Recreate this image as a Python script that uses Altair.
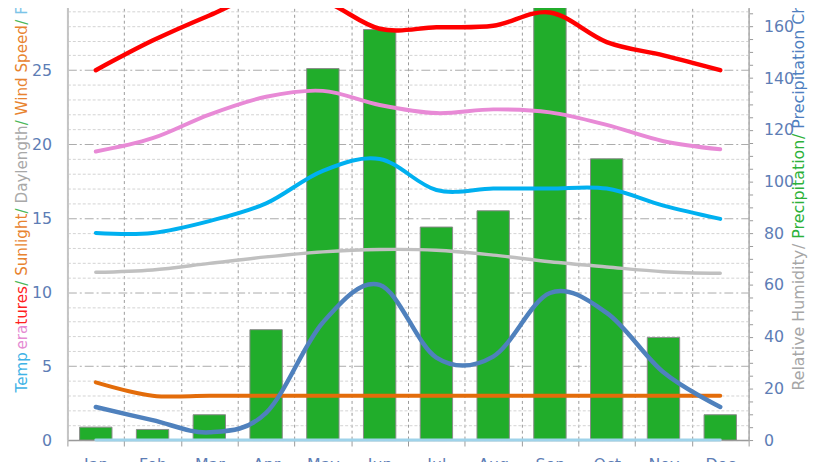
import altair as alt
import pandas as pd

months = ["Jan", "Feb", "Mar", "Apr", "May", "Jun", "Jul", "Aug", "Sep", "Oct", "Nov", "Dec"]
temp_max = [25.0, 27.0, 28.7, 30.2, 29.7, 27.8, 27.9, 28.0, 28.9, 26.9, 26.0, 25.0]
temp_mean = [19.5, 20.4, 22.0, 23.2, 23.6, 22.65, 22.1, 22.35, 22.15, 21.3, 20.2, 19.65]
temp_min = [14.0, 14.0, 14.8, 16.0, 18.2, 19.0, 16.9, 17.0, 17.0, 17.0, 15.85, 14.95]
daylength = [11.34, 11.5, 11.94, 12.38, 12.72, 12.88, 12.83, 12.5, 12.05, 11.7, 11.38, 11.27]
sunlight = [3.9, 3.0, 3.0, 3.0, 3.0, 3.0, 3.0, 3.0, 3.0, 3.0, 3.0, 3.0]
frost = [0, 0, 0, 0, 0, 0, 0, 0, 0, 0, 0, 0]
precipitation = [5.0, 4.1, 9.8, 42.7, 143.7, 158.8, 82.4, 88.7, 180.0, 108.8, 39.7, 9.8]
precip_chance = [12.8, 7.7, 3.0, 10.5, 45.5, 60.0, 31.9, 32.3, 56.9, 49.2, 26.2, 12.8]

left_ticks = list(range(0, 30))
right_ticks = list(range(0, 170, 5))

left_title = [("Temp", "#3fb3e6"), ("era", "#e58bd3"), ("tures", "#ff1f1f"), ("/ ", "#4cb85a"),
              ("Sunlight", "#e8832f"), ("/ ", "#4cb85a"), ("Daylength", "#a8a8a8"), ("/ ", "#4cb85a"),
              ("Wind Speed", "#e8832f"), ("/ ", "#4cb85a"), ("Frost Days", "#7cc4e8")]
right_title = [("Relative Humidity", "#a6a6a6"), ("/ ", "#a6a6a6"), ("Precipitation", "#2db13a"),
               ("/ ", "#2db13a"), ("Precipitation Chance", "#4f7fbf")]

df = pd.DataFrame({
    "month": months, "temp_max": temp_max, "temp_mean": temp_mean, "temp_min": temp_min,
    "daylength": daylength, "sunlight": sunlight, "frost": frost,
    "precipitation": precipitation, "precip_chance": precip_chance,
})

FONT = "DejaVu Sans"
LABEL_COLOR = "#5d7db5"
W, H = 688, 442
LEFT_MAX = 29.58
RIGHT_MAX = 169.3

x = alt.X("month:N", sort=months,
          scale=alt.Scale(paddingInner=0, paddingOuter=0),
          axis=alt.Axis(title=None, labelAngle=0, tickBand="extent", grid=True,
                        gridDash=[3, 3], gridColor="#9a9a9a", gridWidth=1,
                        ticks=True, tickSize=6, tickColor="#9a9a9a",
                        domainColor="#9a9a9a", domainWidth=1.5,
                        labelColor=LABEL_COLOR, labelFontSize=16, labelFont=FONT,
                        labelPadding=11))

left_scale = alt.Scale(domain=[0, LEFT_MAX], nice=False, zero=True)
right_scale = alt.Scale(domain=[0, RIGHT_MAX], nice=False, zero=True)

left_axis = alt.Axis(orient="left", title=None, values=left_ticks,
                     labelExpr="datum.value % 5 === 0 ? datum.label : ''",
                     labelOverlap=False, grid=True,
                     gridDash={"condition": {"test": "datum.value % 5 === 0", "value": [9, 3, 2, 3]}, "value": [3, 2]},
                     gridColor={"condition": {"test": "datum.value % 5 === 0", "value": "#ababab"}, "value": "#d2d2d2"},
                     gridWidth=1, ticks=False, domainColor="#c4c4c4", domainWidth=2,
                     labelColor=LABEL_COLOR, labelFontSize=16, labelFont=FONT, labelPadding=16)

right_axis = alt.Axis(orient="right", title=None, values=right_ticks,
                      labelExpr="datum.value % 20 === 0 ? datum.label : ''",
                      labelOverlap=False, grid=False, ticks=True, tickSize=4, tickColor="#9a9a9a",
                      domainColor="#b0b0b0", domainWidth=1.5,
                      labelColor=LABEL_COLOR, labelFontSize=16, labelFont=FONT, labelPadding=11)

bars = alt.Chart(df).mark_bar(color="#21ad2b", stroke="#8a8a8a", strokeWidth=1,
                              width=alt.RelativeBandSize(0.57), clip=True).encode(
    x=x, y=alt.Y("precipitation:Q", scale=right_scale, axis=right_axis))

line_specs = [
    ("frost", "#9fd3ea", 3, False),
    ("sunlight", "#e36c0a", 4, True),
    ("daylength", "#c0c0c0", 3.5, True),
    ("temp_min", "#00b0f0", 4, True),
    ("temp_mean", "#e88ad6", 4, True),
    ("temp_max", "#ff0000", 4.5, True),
]
left_layers = []
for col, colr, sw, clip in line_specs:
    left_layers.append(
        alt.Chart(df).mark_line(color=colr, strokeWidth=sw, interpolate="cardinal",
                                clip=clip, strokeCap="round").encode(
            x=x, y=alt.Y(f"{col}:Q", scale=left_scale, axis=left_axis)))
left_lines = alt.layer(*left_layers)

chance = alt.Chart(df).mark_line(color="#4f81bd", strokeWidth=4.5, interpolate="cardinal",
                                 clip=True, strokeCap="round").encode(
    x=x, y=alt.Y("precip_chance:Q", scale=right_scale, axis=None))

# DejaVu Sans advance widths (em) for laying out multi-coloured axis titles
adv = {'T': 0.611, 'e': 0.615, 'm': 0.974, 'p': 0.635, 'r': 0.411, 'a': 0.613, 't': 0.392,
       'u': 0.634, 's': 0.521, '/': 0.337, ' ': 0.318, 'S': 0.635, 'n': 0.634, 'l': 0.278,
       'i': 0.278, 'g': 0.635, 'h': 0.634, 'D': 0.770, 'y': 0.592, 'W': 0.989, 'd': 0.635,
       'F': 0.575, 'o': 0.612, 'R': 0.695, 'v': 0.592, 'H': 0.752, 'P': 0.603, 'c': 0.550,
       'C': 0.698}


def title_layers(segments, xpos, start, size):
    out = []
    pos = start
    for txt, colr in segments:
        out.append(alt.Chart(pd.DataFrame({"t": [txt.strip()]})).mark_text(
            angle=270, align="left", baseline="middle", fontSize=size, font=FONT, color=colr
        ).encode(text="t:N", x=alt.value(xpos), y=alt.value(pos)))
        pos -= sum(adv.get(ch, 0.6) for ch in txt) * size
    return out


texts = title_layers(left_title, -46, 394, 15.3) + title_layers(right_title, 739, 392, 16)

chart = alt.layer(bars, left_lines, chance, *texts).resolve_scale(y="independent").properties(
    width=W, height=H,
    autosize=alt.AutoSizeParams(type="none"),
    padding={"left": 60, "top": -8, "right": 64, "bottom": 40},
).configure_view(stroke=None).configure(font=FONT)

chart.save("out.html", embed_options={"renderer": "svg", "actions": False})
